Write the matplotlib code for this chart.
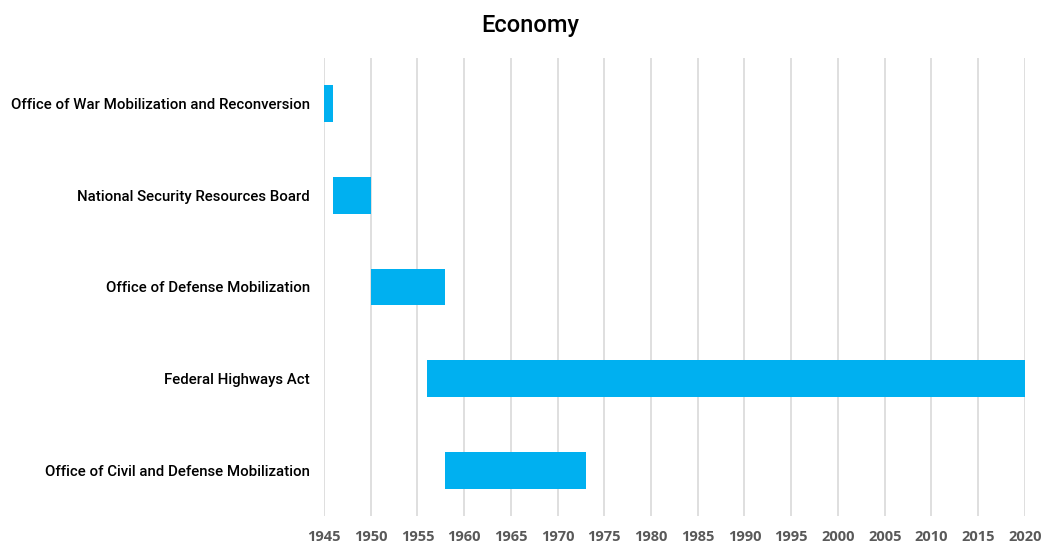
import matplotlib
matplotlib.use("Agg")
from matplotlib import pyplot as plt

# Data
agencies = ["Office of War Mobilization and Reconversion",
            "National Security Resources Board",
            "Office of Defense Mobilization",
            "Federal Highways Act",
            "Office of Civil and Defense Mobilization"]
start_year = [1945, 1946, 1950, 1956, 1958]
end_year = [1946, 1950, 1958, 2020, 1973]
years = list(range(1945, 2021, 5))

durations = [e - s for s, e in zip(start_year, end_year)]

fig = plt.figure(figsize=(10.43, 5.45), dpi=100)
ax = fig.add_axes([0.3106, 0.0532, 0.672, 0.8404])

ax.barh(agencies, durations, left=start_year, height=0.4, color="#00B0F0", zorder=3)

ax.set_xlim(1945, 2020)
ax.set_ylim(len(agencies) - 0.5, -0.5)
ax.set_xticks(years)
ax.set_xticklabels([str(y) for y in years], fontfamily="Open Sans", fontweight="bold",
                   fontsize=10.5, color="#595959")
for lab in ax.get_yticklabels():
    lab.set_fontfamily(["Roboto", "DejaVu Sans"])
    lab.set_fontweight(500)
    lab.set_fontsize(10.8)
    lab.set_color("black")
ax.tick_params(axis="x", length=0, pad=10)
ax.tick_params(axis="y", length=0, pad=10)

ax.grid(axis="x", color="#d9d9d9", linewidth=1.2, zorder=0)
for s in ax.spines.values():
    s.set_visible(False)

fig.suptitle("Economy", x=0.508, y=0.975, fontsize=17, fontweight=500,
             fontfamily=["Roboto", "DejaVu Sans"])

fig.savefig("out.png", dpi=100)
